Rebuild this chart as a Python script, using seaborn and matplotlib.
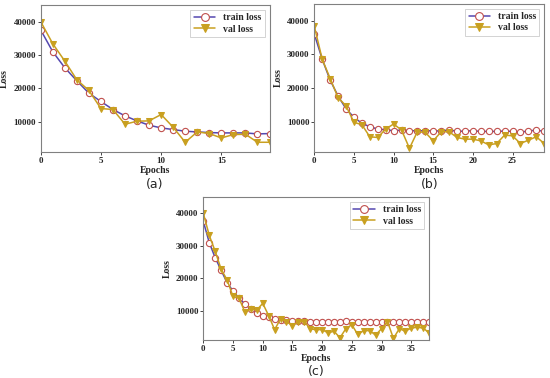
import pandas as pd
import matplotlib
matplotlib.use('Agg')
import matplotlib.pyplot as plt
import seaborn as sns

# ---- data ----
train_a = [37500, 31000, 26200, 22300, 18600, 16100, 13700, 11800, 10300, 9000,
           8200, 7700, 7200, 7000, 6800, 6700, 6700, 6700, 6400, 6500]
val_a = [40000, 33400, 28200, 22600, 19400, 14000, 13700, 9300, 10200, 10300,
         12200, 8400, 3900, 7000, 6500, 5200, 6200, 6300, 3900, 3900]

train_b = [36000, 28500, 22300, 17600, 13800, 11300, 9500, 8500, 7800, 7600,
           7300, 7500, 7300, 7300, 7300, 7300, 7200, 7600, 7100, 7200,
           7300, 7100, 7100, 7100, 7200, 7100, 6900, 7200, 7500, 7100]
val_b = [38300, 28500, 22800, 17100, 14700, 9800, 9100, 5500, 5300, 7800,
         9300, 7500, 2100, 7000, 6800, 4300, 7000, 7000, 5300, 4800,
         4800, 4300, 3100, 3500, 6000, 5800, 3500, 4500, 5500, 3500]

train_c = [37500, 31000, 26300, 22500, 18600, 16100, 13900, 12100, 10500, 9200,
           8500, 8100, 7500, 7300, 7100, 7000, 7000, 7000, 6700, 6700,
           6700, 6600, 6700, 6600, 6900, 6600, 6500, 6600, 6700, 6600,
           6600, 6700, 6600, 6600, 6500, 6600, 6600, 6600, 6500]
val_c = [40000, 33200, 28300, 22800, 19500, 14400, 13900, 9600, 10500, 10200,
         12300, 8500, 4200, 7500, 6700, 5400, 6700, 6700, 4400, 4200,
         4200, 3200, 3700, 1700, 4500, 5700, 2700, 3900, 3900, 2500,
         4500, 6700, 1500, 4500, 3700, 4700, 4900, 4700, 3200]

panels = [
    ('(a)', train_a, val_a, [0.074, 0.598, 0.416, 0.389], [0, 5, 10, 15]),
    ('(b)', train_b, val_b, [0.5715, 0.598, 0.418, 0.392], [0, 5, 10, 15, 20, 25]),
    ('(c)', train_c, val_c, [0.3697, 0.1005, 0.4104, 0.378], [0, 5, 10, 15, 20, 25, 30, 35]),
]

sns.set_style('ticks')
plt.rcParams['font.family'] = ['Liberation Serif', 'DejaVu Serif']

fig = plt.figure(figsize=(5.5, 3.78), dpi=100)

for tag, train, val, rect, xt in panels:
    ax = fig.add_axes(rect)
    df = pd.DataFrame({'epoch': range(len(train)), 'train': train, 'val': val})
    sns.lineplot(data=df, x='epoch', y='train', ax=ax, color='#5548b0', lw=1.1,
                 marker='o', markersize=4.5, markerfacecolor='white',
                 markeredgecolor='#c0504d', markeredgewidth=0.8, label='train loss')
    sns.lineplot(data=df, x='epoch', y='val', ax=ax, color='#c9a020', lw=1.1,
                 marker='v', markersize=4.5, markerfacecolor='#c9a020',
                 markeredgecolor='#c9a020', label='val loss')
    ax.set_xlim(0, len(train) - 1)
    ax.set_ylim(1000, 45000)
    ax.set_xticks(xt)
    ax.set_yticks([10000, 20000, 30000, 40000])
    ax.tick_params(labelsize=6.5, length=2, width=0.6, pad=1.5)
    for lab in ax.get_xticklabels() + ax.get_yticklabels():
        lab.set_fontweight('bold')
    for sp in ax.spines.values():
        sp.set_color('#808080')
        sp.set_linewidth(0.8)
    ax.set_xlabel('Epochs', fontsize=7, fontweight='bold', labelpad=1)
    ax.set_ylabel('Loss', fontsize=7, fontweight='bold', labelpad=3)
    leg = ax.legend(loc='upper right', prop={'weight': 'bold', 'size': 7},
                    markerscale=1.25, handlelength=2.2, borderpad=0.35,
                    labelspacing=0.25, fancybox=False, framealpha=1)
    leg.get_frame().set_linewidth(0.6)
    ax.text(0.5, -0.22, tag, transform=ax.transAxes, ha='center', va='center',
            fontsize=9, family='DejaVu Sans')

fig.savefig('out.png', dpi=100)
